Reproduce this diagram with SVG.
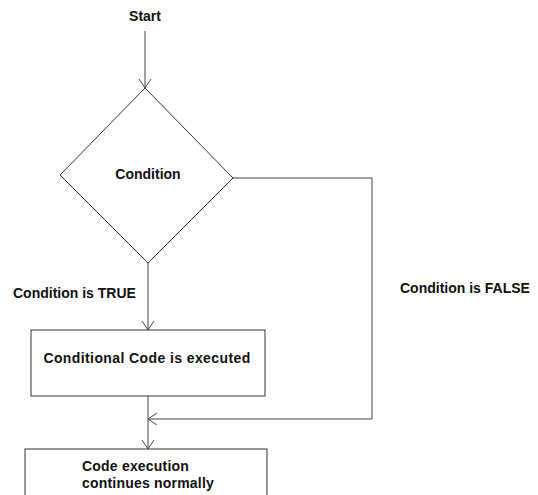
<svg xmlns="http://www.w3.org/2000/svg" width="538" height="495" viewBox="0 0 538 495">
<style>
text{font-family:"Liberation Sans",Arial,sans-serif;font-weight:bold;font-size:14px;fill:#111}
.shape{fill:#fff;stroke:#333;stroke-width:1}
.edge{fill:none;stroke:#444;stroke-width:1}
</style>
<defs>
<marker id="arr" markerWidth="16" markerHeight="16" refX="10" refY="6" orient="auto" markerUnits="userSpaceOnUse">
<path d="M1,0 L10,6 L1,12" fill="none" stroke="#444" stroke-width="1"/>
</marker>
</defs>
<rect width="538" height="495" fill="#fff"/>
<g id="start"><text x="145" y="21" text-anchor="middle">Start</text></g>
<g id="condition">
<polygon class="shape" points="145,88 233,178 148,263 60,175"/>
<text x="148" y="179" text-anchor="middle">Condition</text>
</g>
<g id="code">
<rect class="shape" x="31" y="330" width="234" height="66"/>
<text x="147" y="363" text-anchor="middle" letter-spacing="0.4">Conditional Code is executed</text>
</g>
<g id="continue">
<rect class="shape" x="25" y="449" width="242" height="60"/>
<text x="82" y="471" letter-spacing="0.2">Code execution</text>
<text x="82" y="488" letter-spacing="0.2">continues normally</text>
</g>
<g id="connectors">
<path class="edge" d="M145,31 V88" marker-end="url(#arr)"/>
<path class="edge" d="M148,263 V330" marker-end="url(#arr)"/>
<path class="edge" d="M233,178 H372 V419 H148" marker-end="url(#arr)"/>
<path class="edge" d="M148,396 V449" marker-end="url(#arr)"/>
<text x="13" y="298">Condition is TRUE</text>
<text x="400" y="293">Condition is FALSE</text>
</g>
</svg>
